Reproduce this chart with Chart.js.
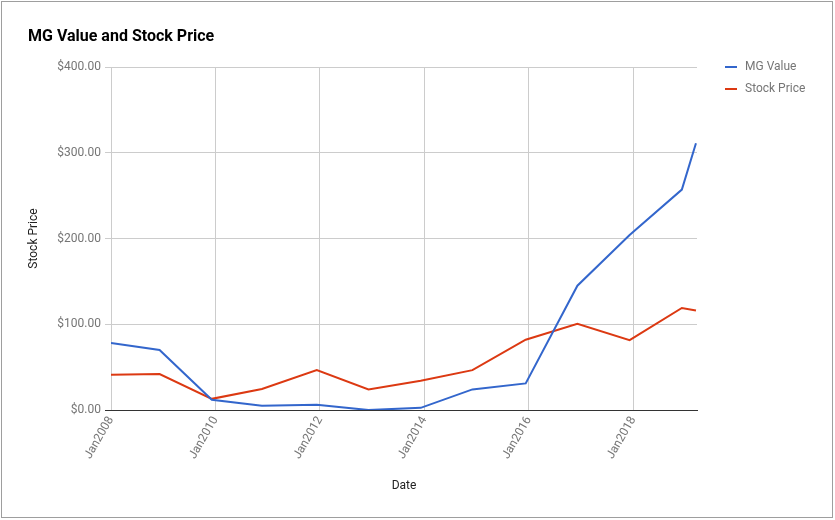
<!DOCTYPE html>
<html>
<head>
<meta charset="utf-8">
<script src="https://cdn.jsdelivr.net/npm/chart.js@4"></script>
<style>
  html, body { margin: 0; padding: 0; background: #fff; }
  #wrap { position: relative; width: 835px; height: 520px; overflow: hidden; font-family: Roboto, "Noto Sans", sans-serif; }
  #frame { position: absolute; left: 1px; top: 1px; width: 830px; height: 515px; border: 1px solid #9e9e9e; box-sizing: content-box; }
  #c { position: absolute; left: 0; top: 0; }
  #title { position: absolute; left: 28px; top: 26px; font-size: 16px; font-weight: bold; color: #000; white-space: nowrap; }
  .leg { position: absolute; left: 725px; font-size: 12px; color: #757575; white-space: nowrap; }
  .leg span.sw { position: absolute; left: 0; top: 7px; width: 12px; height: 2px; }
  .leg span.tx { position: absolute; left: 20px; top: 0; }
</style>
</head>
<body>
<div id="wrap">
  <div id="frame"></div>
  <canvas id="c" width="835" height="520"></canvas>
  <div id="title">MG Value and Stock Price</div>
  <div class="leg" style="top:59px"><span class="sw" style="background:#3366cc"></span><span class="tx">MG Value</span></div>
  <div class="leg" style="top:81px"><span class="sw" style="background:#dc3912"></span><span class="tx">Stock Price</span></div>
</div>
<script>
// Dates as decimal years
const dates = [2008.0, 2008.93, 2009.93, 2010.89, 2011.94, 2012.93, 2013.93, 2014.92, 2015.94, 2016.93, 2017.93, 2018.93, 2019.2];
const mgValue = [78, 70, 12, 5, 6, 0, 2.5, 24, 31, 145, 204, 257, 311];
const stockPrice = [41, 42, 13, 24.5, 46.5, 24, 34, 46.5, 82, 100.5, 81.5, 119, 116];
const xTicks = [2008, 2010, 2012, 2014, 2016, 2018];
const yTicks = [0, 100, 200, 300, 400];

const toPts = (ys) => dates.map((d, i) => ({ x: d, y: ys[i] }));
const font = { family: 'Roboto', size: 12 };

new Chart(document.getElementById('c'), {
  type: 'line',
  data: {
    datasets: [
      { label: 'MG Value', data: toPts(mgValue), borderColor: '#3366cc', backgroundColor: '#3366cc', borderWidth: 2, pointRadius: 0, tension: 0 },
      { label: 'Stock Price', data: toPts(stockPrice), borderColor: '#dc3912', backgroundColor: '#dc3912', borderWidth: 2, pointRadius: 0, tension: 0 }
    ]
  },
  options: {
    responsive: false,
    animation: false,
    layout: { padding: { left: 0, top: 67, right: 138, bottom: 0 } },
    plugins: { legend: { display: false }, title: { display: false }, tooltip: { enabled: false } },
    scales: {
      x: {
        type: 'linear',
        min: 2008,
        max: 2019.22,
        afterBuildTicks: (s) => { s.ticks = xTicks.map(v => ({ value: v })); },
        afterFit: (s) => { s.height = 110; },
        ticks: { callback: (v) => 'Jan' + v, minRotation: 60, maxRotation: 60, color: '#757575', font, padding: 4 },
        grid: { color: '#cccccc', drawTicks: false },
        border: { color: '#333333', width: 1 },
        title: { display: true, text: 'Date', color: '#222222', font, padding: { top: 0, bottom: 27 } }
      },
      y: {
        min: 0,
        max: 400,
        afterBuildTicks: (s) => { s.ticks = yTicks.map(v => ({ value: v })); },
        afterFit: (s) => { s.width = 111; },
        ticks: { callback: (v) => '$' + Number(v).toFixed(2), color: '#757575', font, padding: 4 },
        grid: { color: (ctx) => ctx.tick && ctx.tick.value === 0 ? '#333333' : '#cccccc', tickLength: 6 },
        border: { display: false },
        title: { display: true, text: 'Stock Price', color: '#222222', font, padding: { top: 27, bottom: 4 } }
      }
    }
  }
});
</script>
</body>
</html>
